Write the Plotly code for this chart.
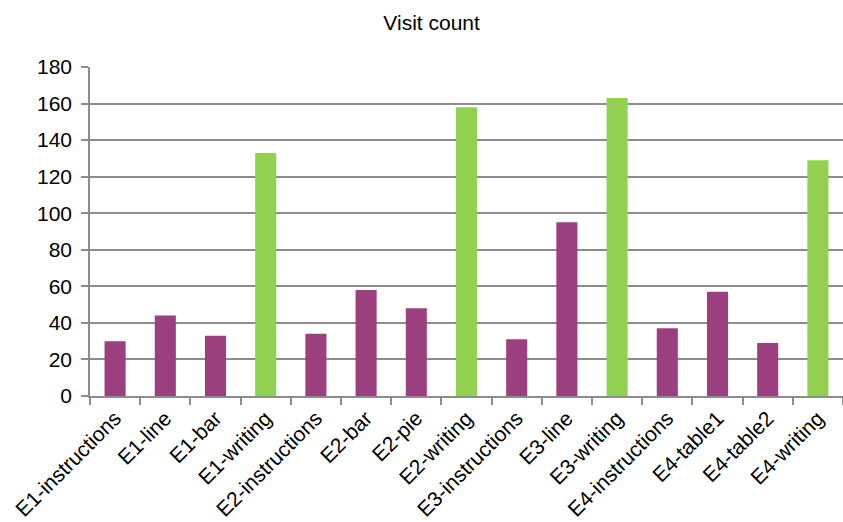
import plotly.graph_objects as go

categories = ["E1-instructions", "E1-line", "E1-bar", "E1-writing",
              "E2-instructions", "E2-bar", "E2-pie", "E2-writing",
              "E3-instructions", "E3-line", "E3-writing",
              "E4-instructions", "E4-table1", "E4-table2", "E4-writing"]
visits = [30, 44, 33, 133, 34, 58, 48, 158, 31, 95, 163, 37, 57, 29, 129]
y_ticks = [0, 20, 40, 60, 80, 100, 120, 140, 160, 180]

PURPLE = "#9b3f7f"
GREEN = "#92d050"
colors = [GREEN if c.endswith("writing") else PURPLE for c in categories]

fig = go.Figure(go.Bar(x=categories, y=visits, marker=dict(color=colors, line=dict(width=0)),
                       width=0.42))

font_family = "Liberation Sans, Arial, sans-serif"
fig.update_layout(
    width=843, height=522,
    margin=dict(l=90, r=0, t=67, b=126, autoexpand=False),
    paper_bgcolor="white", plot_bgcolor="white",
    font=dict(family=font_family, size=21, color="#000000"),
    title=dict(text="Visit count", x=0.512, xanchor="center", y=0.956, yanchor="middle",
               font=dict(size=21)),
    showlegend=False,
    bargap=0.58,
)
fig.update_xaxes(
    type="category", tickangle=-45, tickson="boundaries",
    ticks="outside", ticklen=7, tickwidth=1.5, tickcolor="#8c8c8c",
    showline=True, linecolor="#8c8c8c", linewidth=1.5,
    showgrid=False, tickfont=dict(size=21), automargin=False,
)
fig.update_yaxes(
    range=[0, 180], tickvals=y_ticks, ticks="outside", ticklen=7, tickwidth=1.5,
    tickcolor="#8c8c8c", showline=True, linecolor="#8c8c8c", linewidth=1.5,
    showgrid=True, gridcolor="#8c8c8c", gridwidth=1.5, zeroline=False,
    tickfont=dict(size=21), ticklabelstandoff=5, automargin=False,
)

fig.write_html("out.html")
